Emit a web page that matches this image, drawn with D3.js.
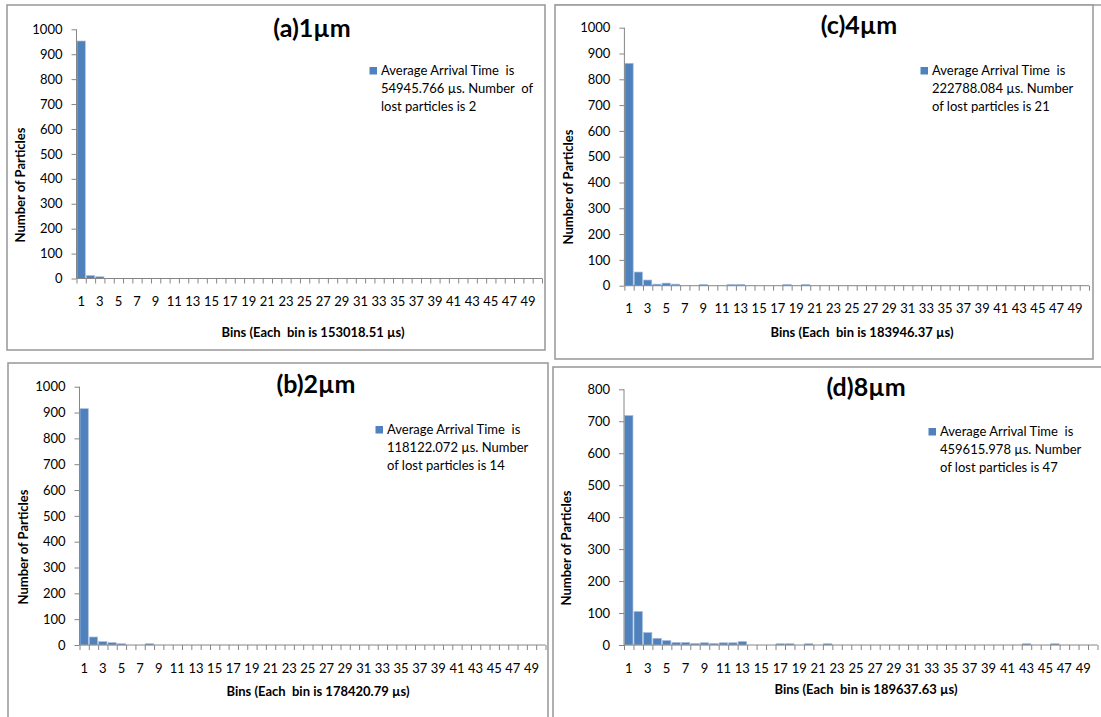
<!DOCTYPE html>
<html>
<head>
<meta charset="utf-8">
<script src="https://cdn.jsdelivr.net/npm/d3@7"></script>
<style>
  html, body { margin: 0; padding: 0; background: #ffffff; }
  svg { display: block; }
  text { font-family: Lato, "Open Sans", sans-serif; }
</style>
</head>
<body>
<svg id="chart" width="1101" height="717"></svg>
<script>
// ---------- DATA ----------
const bins = d3.range(1, 51); // bin categories 1..50

const titles = ["(a)1µm", "(b)2µm", "(c)4µm", "(d)8µm"];

const valuesA = [953, 12, 7, 0, 0, 0, 0, 0, 0, 0, 0, 0, 0, 0, 0, 0, 0, 0, 0, 0, 0, 0, 0, 0, 0,
                 0, 0, 0, 0, 0, 0, 0, 0, 0, 0, 0, 0, 0, 0, 0, 0, 0, 0, 0, 0, 0, 0, 0, 0, 0];
const valuesB = [915, 31, 13, 9, 5, 0, 0, 5, 0, 0, 0, 0, 0, 0, 0, 0, 0, 0, 0, 0, 0, 0, 0, 0, 0,
                 0, 0, 0, 0, 0, 0, 0, 0, 0, 0, 0, 0, 0, 0, 0, 0, 0, 0, 0, 0, 0, 0, 0, 0, 0];
const valuesC = [862, 53, 22, 6, 10, 6, 0, 0, 5, 0, 0, 5, 5, 0, 0, 0, 0, 5, 0, 5, 0, 0, 0, 0, 0,
                 0, 0, 0, 0, 0, 0, 0, 0, 0, 0, 0, 0, 0, 0, 0, 0, 0, 0, 0, 0, 0, 0, 0, 0, 0];
const valuesD = [718, 105, 39, 21, 14, 8, 8, 5, 7, 5, 7, 7, 11, 0, 0, 0, 4, 4, 0, 4, 0, 4, 0, 0, 0,
                 0, 0, 0, 0, 0, 0, 0, 0, 0, 0, 0, 0, 0, 0, 0, 0, 0, 4, 0, 0, 4, 0, 0, 0, 0];

const yTicks1000 = [0, 100, 200, 300, 400, 500, 600, 700, 800, 900, 1000];
const yTicks800 = [0, 100, 200, 300, 400, 500, 600, 700, 800];

const legendA = ["Average Arrival Time  is", "54945.766 µs. Number  of", "lost particles is 2"];
const legendB = ["Average Arrival Time  is", "118122.072 µs. Number", "of lost particles is 14"];
const legendC = ["Average Arrival Time  is", "222788.084 µs. Number", "of lost particles is 21"];
const legendD = ["Average Arrival Time  is", "459615.978 µs. Number", "of lost particles is 47"];

const xTitles = ["Bins (Each  bin is 153018.51 µs)", "Bins (Each  bin is 178420.79 µs)",
                 "Bins (Each  bin is 183946.37 µs)", "Bins (Each  bin is 189637.63 µs)"];
const yTitle = "Number of Particles";

// ---------- LAYOUT ----------
const panels = [
  { values: valuesA, title: titles[0], legend: legendA, xTitle: xTitles[0], yMax: 1000, yTicks: yTicks1000,
    frame: [7, 5, 545, 350], x0: 76.5, x1: 542, yZero: 278.5, yTop: 29.3,
    titleX: 312, titleY: 37, legX: 369.5, legY: 67, yTitleX: 21, yTitleY: 185, xLabPad: 18, xTitleY: 337, xTitleX: 313 },
  { values: valuesB, title: titles[1], legend: legendB, xTitle: xTitles[1], yMax: 1000, yTicks: yTicks1000,
    frame: [8, 363, 548, 725], x0: 79.5, x1: 545.5, yZero: 645, yTop: 386.7,
    titleX: 316, titleY: 393, legX: 375.5, legY: 426, yTitleX: 24, yTitleY: 547, xLabPad: 18.5, xTitleY: 696, xTitleX: 318 },
  { values: valuesC, title: titles[2], legend: legendC, xTitle: xTitles[2], yMax: 1000, yTicks: yTicks1000,
    frame: [555, 5, 1093, 359], x0: 624.4, x1: 1089, yZero: 285.7, yTop: 27.7,
    titleX: 859, titleY: 34, legX: 920.5, legY: 67, yTitleX: 569, yTitleY: 187, xLabPad: 18.5, xTitleY: 337, xTitleX: 862 },
  { values: valuesD, title: titles[3], legend: legendD, xTitle: xTitles[3], yMax: 800, yTicks: yTicks800,
    frame: [553, 367, 1110, 725], x0: 624, x1: 1097.5, yZero: 645, yTop: 389.3,
    titleX: 866, titleY: 396, legX: 928.5, legY: 428, yTitleX: 567, yTitleY: 548, xLabPad: 18.5, xTitleY: 694, xTitleX: 866 }
];

const svg = d3.select("#chart");
const barColor = "#4f81bd";
const axisColor = "#868686";
const frameColor = "#9d9d9d";

// extra top border running to the right edge (outer frame of picture)
svg.append("line").attr("x1", 555).attr("x2", 1101).attr("y1", 5).attr("y2", 5)
  .attr("stroke", frameColor).attr("stroke-width", 1.6);

panels.forEach(p => {
  const g = svg.append("g");
  const [fx0, fy0, fx1, fy1] = p.frame;
  g.append("rect").attr("x", fx0).attr("y", fy0).attr("width", fx1 - fx0).attr("height", fy1 - fy0)
    .attr("fill", "#fff").attr("stroke", frameColor).attr("stroke-width", 1.6);

  const xBand = d3.scaleBand().domain(bins).range([p.x0, p.x1]).paddingInner(0).paddingOuter(0);
  const xLin = d3.scaleLinear().domain([0, bins.length]).range([p.x0, p.x1]);
  const y = d3.scaleLinear().domain([0, p.yMax]).range([p.yZero, p.yTop]);

  // bars
  g.append("g").selectAll("rect").data(p.values.map((v, i) => ({ bin: bins[i], v })))
    .join("rect")
    .filter(d => d.v > 0)
    .attr("x", d => xBand(d.bin) + 0.5)
    .attr("width", xBand.bandwidth() - 1)
    .attr("y", d => y(d.v))
    .attr("height", d => y(0) - y(d.v))
    .attr("fill", barColor)
    .attr("stroke", "#a9c0de")
    .attr("stroke-width", 0.7);

  // y axis
  const yAxis = d3.axisLeft(y).tickValues(p.yTicks).tickSize(5).tickPadding(9).tickFormat(d3.format("d"));
  const ya = g.append("g").attr("transform", `translate(${p.x0},0)`).call(yAxis);
  ya.select(".domain").attr("stroke", axisColor).attr("d", `M-0,${p.yTop}V${p.yZero}`);
  ya.selectAll(".tick line").attr("stroke", axisColor);
  ya.selectAll(".tick text").attr("fill", "#000").style("font-size", "13px").style("font-family", "Lato, sans-serif");

  // x axis boundary ticks
  const xTickAxis = d3.axisBottom(xLin).tickValues(d3.range(0, bins.length + 1)).tickSize(5).tickFormat("");
  const xa = g.append("g").attr("transform", `translate(0,${p.yZero})`).call(xTickAxis);
  xa.select(".domain").attr("stroke", axisColor).attr("d", `M${p.x0},0H${p.x1}`);
  xa.selectAll(".tick line").attr("stroke", axisColor);

  // x labels (odd bins)
  const xLabAxis = d3.axisBottom(xBand).tickSize(0).tickPadding(p.xLabPad)
    .tickFormat(d => (d % 2 === 1 ? String(d) : ""));
  const xl = g.append("g").attr("transform", `translate(0,${p.yZero})`).call(xLabAxis);
  xl.select(".domain").remove();
  xl.selectAll(".tick text").attr("fill", "#000").style("font-size", "13px").style("font-family", "Lato, sans-serif");

  // title
  g.append("text").attr("x", p.titleX).attr("y", p.titleY).attr("text-anchor", "middle")
    .style("font-size", "25px").style("font-weight", "bold").attr("fill", "#000").text(p.title);

  // legend
  g.append("rect").attr("x", p.legX).attr("y", p.legY).attr("width", 7.5).attr("height", 7.5).attr("fill", barColor);
  p.legend.forEach((line, i) => {
    g.append("text").attr("x", p.legX + 11.5).attr("y", p.legY + 8 + i * 18)
      .style("font-size", "13px").style("white-space", "pre").attr("xml:space", "preserve")
      .attr("fill", "#000").text(line);
  });

  // y title
  g.append("text").attr("transform", `translate(${p.yTitleX + 4},${p.yTitleY}) rotate(-90)`)
    .attr("text-anchor", "middle").style("font-size", "13px").style("font-weight", "bold")
    .attr("fill", "#000").text(yTitle);

  // x title
  g.append("text").attr("x", p.xTitleX).attr("y", p.xTitleY).attr("text-anchor", "middle")
    .style("font-size", "13px").style("font-weight", "bold").style("white-space", "pre")
    .attr("xml:space", "preserve").attr("fill", "#000").text(p.xTitle);
});
</script>
</body>
</html>
